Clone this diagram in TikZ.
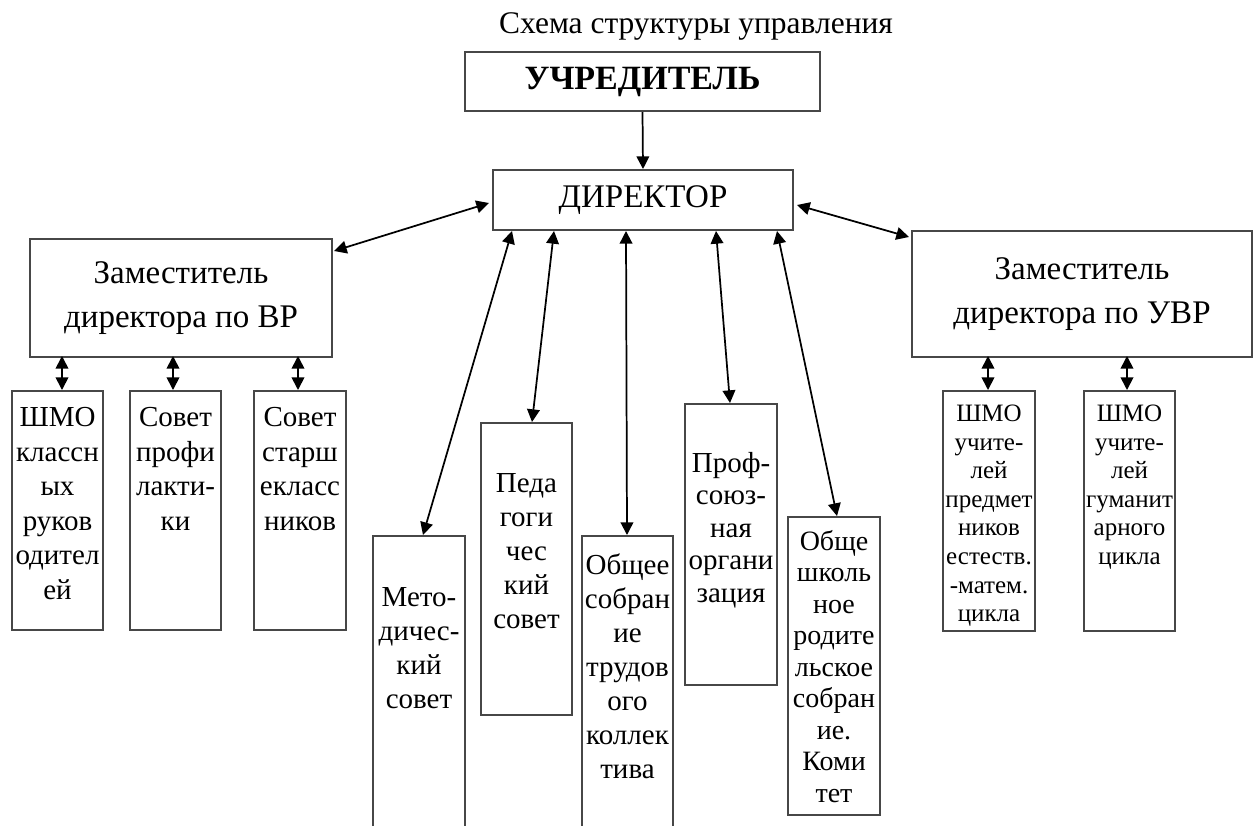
\documentclass[tikz,border=0pt]{standalone}
\usepackage{fontspec}
\setmainfont{Liberation Serif}
\usetikzlibrary{arrows.meta,calc}
\newcommand\fsz[2]{\fontsize{#1}{#2}\selectfont}
\begin{document}
\begin{tikzpicture}[x=0.75pt,y=-0.75pt,
  bx/.style={draw=black!72, line width=1.5pt, inner sep=0pt},
  wh/.style 2 args={minimum width=#1*0.75pt, minimum height=#2*0.75pt},
  lbl/.style={inner sep=0pt, align=center, anchor=north},
  tipA/.tip={Triangle[length=9.5pt,width=9.5pt]},
  arrone/.style={line width=1.3pt, -tipA},
  arrtwo/.style={line width=1.3pt, tipA-tipA},
  fbig/.style={font=\fsz{24.75pt}{33pt}},
  fsmall/.style={font=\fsz{21.75pt}{25.9pt}},
  fmid/.style={font=\fsz{21.75pt}{25.5pt}},
  fright/.style={font=\fsz{18.75pt}{21.4pt}}
]
\useasboundingbox (0,0) rectangle (1260,825);

% title
\node[font=\fsz{23.6pt}{28pt}, anchor=base, inner sep=0pt] (title) at (696,33) {Схема структуры управления};

% top boxes
\node[bx, wh={355}{59}, font=\bfseries\fsz{25.5pt}{30pt}] (U) at (642.5,81.5) {УЧРЕДИТЕЛЬ};
\node[bx, wh={300}{60}, fbig] (D) at (643,200) {ДИРЕКТОР};

% deputies
\node[bx, wh={302}{118}, fbig, align=center] (LD) at (181,298) {Заместитель\\директора по ВР};
\node[bx, wh={340}{126}, fbig, align=center] (RD) at (1082,294) {Заместитель\\директора по УВР};

% left small boxes
\node[bx, wh={91}{239}] (L1) at (57.5,510.5) {};
\node[bx, wh={91}{239}] (L2) at (175.5,510.5) {};
\node[bx, wh={92}{239}] (L3) at (300,510.5) {};
\node[lbl, fsmall] (L1t) at ($(L1.north)+(0,17)$) {ШМО\\классн\\ых\\руков\\одител\\ей};
\node[lbl, fsmall] (L2t) at ($(L2.north)+(0,17)$) {Совет\\профи\\лакти-\\ки};
\node[lbl, fsmall] (L3t) at ($(L3.north)+(0,17)$) {Совет\\старш\\екласс\\ников};

% right small boxes
\node[bx, wh={92}{240}] (R1) at (989,511) {};
\node[bx, wh={91}{240}] (R2) at (1129.5,511) {};
\node[lbl, fright] (R1t) at ($(R1.north)+(0,15)$) {ШМО\\учите-\\лей\\предмет\\ников\\естеств.\\-матем.\\цикла};
\node[lbl, fright] (R2t) at ($(R2.north)+(0,15)$) {ШМО\\учите-\\лей\\гуманит\\арного\\цикла};

% middle boxes
\node[bx, wh={92}{314}] (M1) at (419,693) {};
\node[bx, wh={91}{292}] (M2) at (526.5,569) {};
\node[bx, wh={91}{314}] (M3) at (627.5,693) {};
\node[bx, wh={92}{281}] (M4) at (731,544.5) {};
\node[bx, wh={92}{298}] (M5) at (834,666) {};
\node[lbl, fmid] (M1t) at ($(M1.north)+(0,52)$) {Мето-\\дичес-\\кий\\совет};
\node[lbl, fmid] (M2t) at ($(M2.north)+(0,51)$) {Педа\\гоги\\чес\\кий\\совет};
\node[lbl, fmid] (M3t) at ($(M3.north)+(0,18)$) {Общее\\собран\\ие\\трудов\\ого\\коллек\\тива};
\node[lbl, font=\fsz{21.75pt}{24.4pt}] (M4t) at ($(M4.north)+(0,49)$) {Проф-\\союз-\\ная\\органи\\зация};
\node[lbl, font=\fsz{21pt}{23.6pt}] (M5t) at ($(M5.north)+(0,14)$) {Обще\\школь\\ное\\родите\\льское\\собран\\ие.\\Коми\\тет};

% connectors
\draw[arrone] (U.south) -- (D.north);
\draw[arrtwo] ($(LD.north east)+(1,13)$) -- ($(D.west)+(-3,3)$);
\draw[arrtwo] ($(D.east)+(3,5)$) -- ($(RD.north west)+(-2,7)$);

\draw[arrtwo] ($(L1.north)+(4.5,-34)$) -- ($(L1.north)+(4.5,0)$);
\draw[arrtwo] ($(L2.north)+(-2.5,-34)$) -- ($(L2.north)+(-2.5,0)$);
\draw[arrtwo] ($(L3.north)+(-2,-34)$) -- ($(L3.north)+(-2,0)$);
\draw[arrtwo] ($(R1.north)+(-1,-34)$) -- ($(R1.north)+(-1,0)$);
\draw[arrtwo] ($(R2.north)+(-2.5,-34)$) -- ($(R2.north)+(-2.5,0)$);

\draw[arrtwo] ($(D.south west)+(20,0)$) -- ($(M1.north)+(4,0)$);
\draw[arrtwo] ($(D.south west)+(62,0)$) -- ($(M2.north)+(5.5,0)$);
\draw[arrtwo] ($(D.south west)+(134,0)$) -- ($(M3.north)+(-0.5,0)$);
\draw[arrtwo] ($(D.south west)+(224,0)$) -- ($(M4.north)+(-1,0)$);
\draw[arrtwo] ($(D.south west)+(285,0)$) -- ($(M5.north)+(3,0)$);
\end{tikzpicture}
\end{document}
